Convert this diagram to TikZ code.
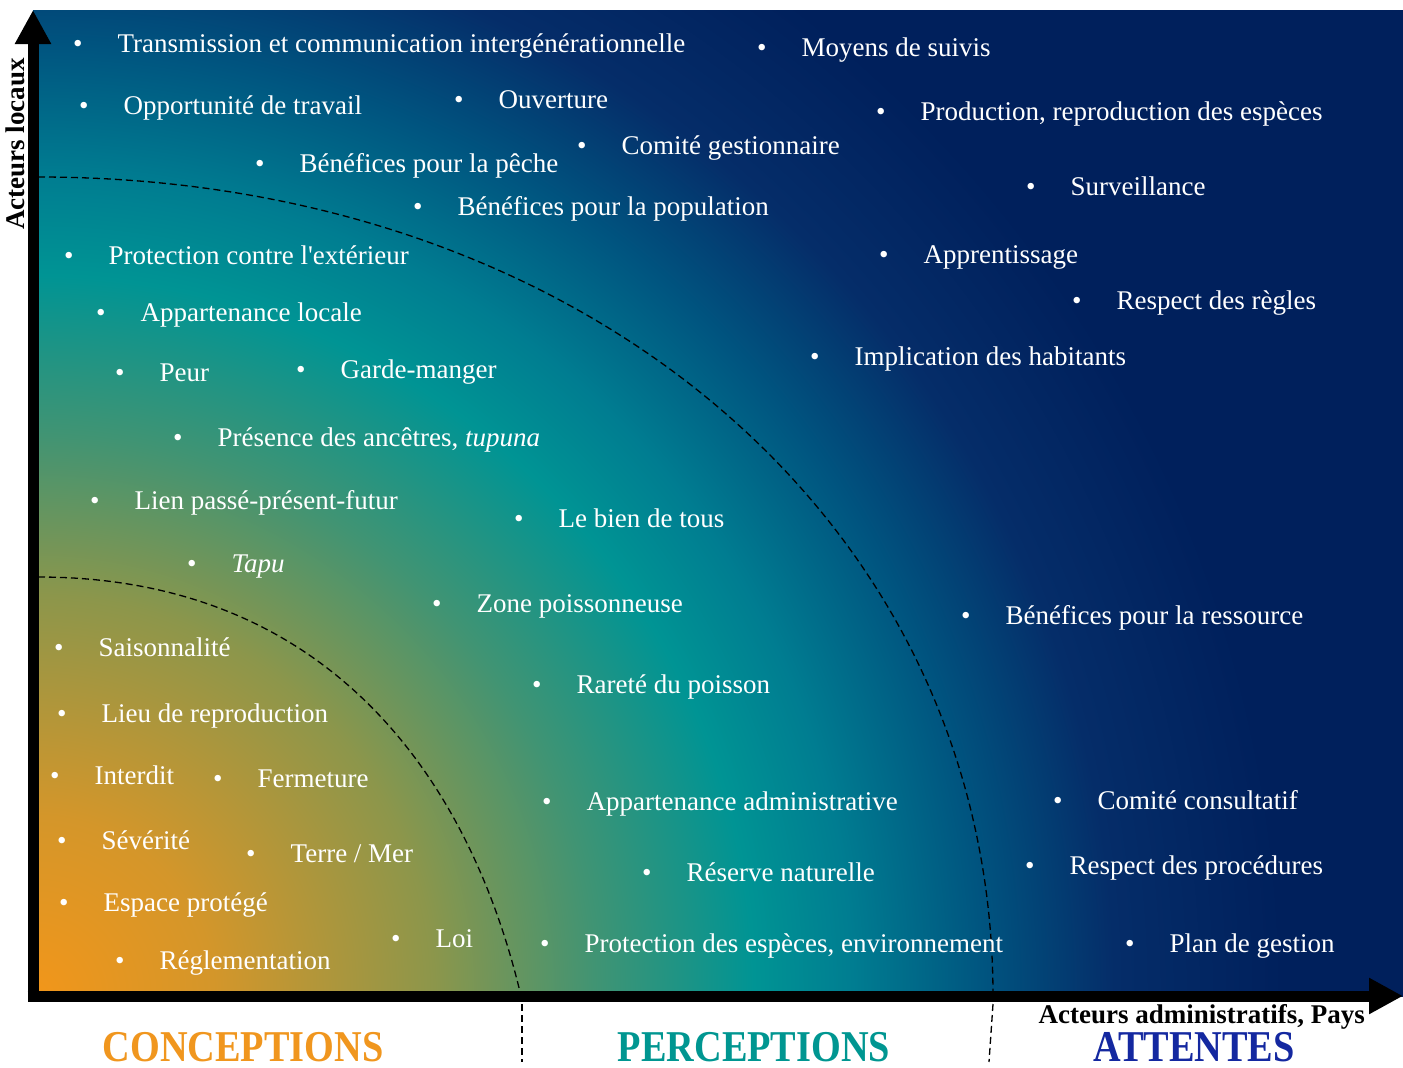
\documentclass[tikz,border=0pt]{standalone}
\usepackage{fontspec}
\setmainfont{Liberation Serif}
\newfontfamily\condfont[FakeStretch=0.87]{Liberation Serif}
\usetikzlibrary{arrows.meta}

\definecolor{bgA}{RGB}{242,150,26}
\definecolor{bgB}{RGB}{212,150,42}
\definecolor{bgC}{RGB}{140,150,75}
\definecolor{bgD}{RGB}{65,148,115}
\definecolor{bgE}{RGB}{0,148,148}
\definecolor{bgF}{RGB}{0,125,145}
\definecolor{bgG}{RGB}{0,85,128}
\definecolor{bgH}{RGB}{5,45,105}
\definecolor{bgI}{RGB}{0,32,92}
\definecolor{conceptions}{RGB}{240,150,30}
\definecolor{perceptions}{RGB}{0,150,145}
\definecolor{attentes}{RGB}{20,40,160}

\pgfdeclareradialshading{bgshade}{\pgfpoint{0bp}{0bp}}{%
  color(0bp)=(bgA); color(2.65bp)=(bgB); color(5.9bp)=(bgC);
  color(8.25bp)=(bgD); color(10.6bp)=(bgE); color(12.05bp)=(bgF);
  color(13.95bp)=(bgG); color(15.9bp)=(bgH); color(18.4bp)=(bgI);
  color(50bp)=(bgI)}

\begin{document}
\begin{tikzpicture}[
        x=1pt, y=-1pt,
        item/.style={text=white, inner sep=0pt, anchor=base west,
            font=\fontsize{27}{32}\selectfont,
            execute at begin node={\textbullet\hspace{35pt}}},
        zone/.style={line width=1.3pt, dash pattern=on 7pt off 4pt},
        axis/.style={line width=11pt, -{Triangle[length=34pt, width=34pt]}},
        axislabel/.style={inner sep=0pt, font=\fontsize{27}{32}\selectfont\bfseries},
        title/.style={inner sep=0pt, anchor=base,
            font=\condfont\bfseries\fontsize{44}{50}\selectfont}
    ]
        \useasboundingbox (0,0) rectangle (1403,1068);

        \begin{scope}
            \clip (33,10) rectangle (1403,996);
            \shade[shading=bgshade] (33,996) circle[radius=1700pt];
        \end{scope}

        \draw[zone] (38,577) .. controls (330,577) and (470,780) .. (521,996);
        \draw[zone] (38,177) .. controls (587,177) and (993,525) .. (993,996);
        \draw[zone] (522,1004) -- (522,1062);
        \draw[zone] (993,1004) -- (989,1062);

        \coordinate (ybot) at (33,1001.5);
        \coordinate (ytop) at (33,10);
        \coordinate (xleft) at (27.5,996);
        \coordinate (xright) at (1403,996);
        \draw[axis] (ybot) -- (ytop);
        \draw[axis] (xleft) -- (xright);

        \node[item] (transmission) at (73,52) {Transmission et communication intergénérationnelle};
        \node[item] (moyens) at (757,56) {Moyens de suivis};
        \node[item] (opportunite) at (79,114) {Opportunité de travail};
        \node[item] (ouverture) at (454,108) {Ouverture};
        \node[item] (production) at (876,120) {Production, reproduction des espèces};
        \node[item] (gestionnaire) at (577,154) {Comité gestionnaire};
        \node[item] (peche) at (255,172) {Bénéfices pour la pêche};
        \node[item] (surveillance) at (1026,195) {Surveillance};
        \node[item] (population) at (413,215) {Bénéfices pour la population};
        \node[item] (exterieur) at (64,264) {Protection contre l\textquotesingle extérieur};
        \node[item] (apprentissage) at (879,263) {Apprentissage};
        \node[item] (locale) at (96,321) {Appartenance locale};
        \node[item] (regles) at (1072,309) {Respect des règles};
        \node[item] (peur) at (115,381) {Peur};
        \node[item] (garde) at (296,378) {Garde-manger};
        \node[item] (implication) at (810,365) {Implication des habitants};
        \node[item] (ancetres) at (173,446) {Présence des ancêtres, \textit{tupuna}};
        \node[item] (lien) at (90,509) {Lien passé-présent-futur};
        \node[item] (bien) at (514,527) {Le bien de tous};
        \node[item] (tapu) at (187,572) {\textit{Tapu}};
        \node[item] (poissonneuse) at (432,612) {Zone poissonneuse};
        \node[item] (ressource) at (961,624) {Bénéfices pour la ressource};
        \node[item] (saison) at (54,656) {Saisonnalité};
        \node[item] (rarete) at (532,693) {Rareté du poisson};
        \node[item] (reproduction) at (57,722) {Lieu de reproduction};
        \node[item] (interdit) at (50,784) {Interdit};
        \node[item] (fermeture) at (213,787) {Fermeture};
        \node[item] (administrative) at (542,810) {Appartenance administrative};
        \node[item] (consultatif) at (1053,809) {Comité consultatif};
        \node[item] (severite) at (57,849) {Sévérité};
        \node[item] (terremer) at (246,862) {Terre / Mer};
        \node[item] (procedures) at (1025,874) {Respect des procédures};
        \node[item] (reserve) at (642,881) {Réserve naturelle};
        \node[item] (espace) at (59,911) {Espace protégé};
        \node[item] (loi) at (391,947) {Loi};
        \node[item] (especes) at (540,952) {Protection des espèces, environnement};
        \node[item] (plan) at (1125,952) {Plan de gestion};
        \node[item] (reglementation) at (115,969) {Réglementation};

        \node[axislabel, rotate=90, anchor=base] (locaux) at (24,144) {Acteurs locaux};
        \node[axislabel, anchor=base east] (administratifs) at (1365,1023.5) {Acteurs administratifs, Pays};

        \node[title, text=conceptions] (conceptions) at (243,1061) {CONCEPTIONS};
        \node[title, text=perceptions] (perceptions) at (754,1061) {PERCEPTIONS};
        \node[title, text=attentes] (attentes) at (1194,1061) {ATTENTES};
    \end{tikzpicture}
\end{document}
